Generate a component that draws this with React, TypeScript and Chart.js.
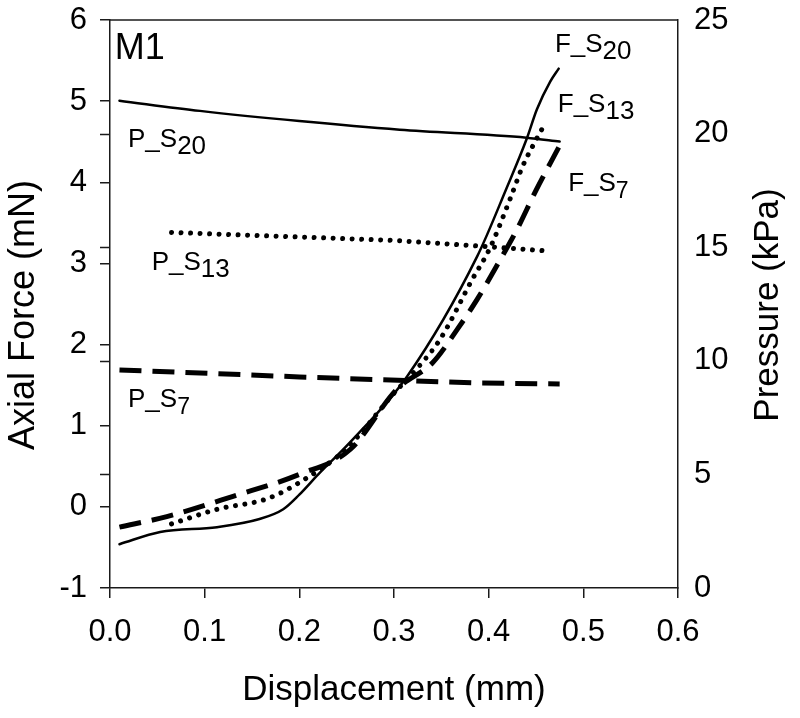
import React, { useEffect, useRef } from 'react';
import { Chart, registerables } from 'chart.js';

Chart.register(...registerables);

const FONT = '"Liberation Sans", Arial, Helvetica, sans-serif';
const AXIS = '#1a1a1a';

// Axial force curves (left axis, mN) vs displacement (mm)
const FS20_X = [0.01, 0.053, 0.113, 0.158, 0.183, 0.2, 0.22, 0.254, 0.314, 0.388, 0.419, 0.44, 0.451, 0.465, 0.474];
const FS20_Y = [-0.46, -0.31, -0.25, -0.15, -0.03, 0.15, 0.4, 0.8, 1.61, 3.09, 3.93, 4.53, 4.9, 5.24, 5.4];

const FS13_X = [0.065, 0.113, 0.166, 0.2, 0.25, 0.3, 0.324, 0.349, 0.383, 0.401, 0.4225, 0.436, 0.449, 0.458];
const FS13_Y = [-0.21, -0.03, 0.1, 0.3, 0.72, 1.4, 1.7, 2.07, 2.81, 3.18, 3.79, 4.2, 4.5, 4.69];

const FS7_X = [0.01, 0.06, 0.13, 0.2, 0.254, 0.303, 0.341, 0.367, 0.388, 0.41, 0.43, 0.45, 0.474];
const FS7_Y = [-0.25, -0.12, 0.13, 0.4, 0.71, 1.45, 1.78, 2.19, 2.56, 3.0, 3.42, 3.9, 4.43];

// Pressure curves (right axis, kPa)
const PS20_X = [0.01, 0.095, 0.2, 0.306, 0.44, 0.475];
const PS20_Y = [21.45, 21.0, 20.55, 20.17, 19.82, 19.65];

const PS13_X = [0.065, 0.3, 0.39, 0.457];
const PS13_Y = [15.65, 15.3, 15.05, 14.85];

const PS7_X = [0.01, 0.2, 0.39, 0.475];
const PS7_Y = [9.6, 9.29, 9.02, 8.98];

// Right-axis tick values that are also marked on the left axis line
const PRESSURE_MARKS = [5, 10, 15, 20];

// Text annotations (positions in x / left-axis units)
const LABEL_MAIN = ['M1', 'P_S', 'P_S', 'P_S', 'F_S', 'F_S', 'F_S'];
const LABEL_SUB = ['', '20', '13', '7', '20', '13', '7'];
const LABEL_X = [0.005, 0.019, 0.044, 0.019, 0.47, 0.473, 0.484];
const LABEL_Y = [5.52, 4.43, 2.92, 1.23, 5.61, 4.87, 3.89];

const toPts = (xs: number[], ys: number[]) => xs.map((x, i) => ({ x, y: ys[i] }));

const solid = { borderWidth: 2.5, borderDash: [] as number[], borderCapStyle: 'round' };
const dotted = { borderWidth: 5, borderDash: [0.01, 9.5], borderCapStyle: 'round' };
const dashed = { borderWidth: 5, borderDash: [22, 11], borderCapStyle: 'butt' };

const mk = (label: string, xs: number[], ys: number[], axis: string, style: any) => ({
  label,
  data: toPts(xs, ys),
  yAxisID: axis,
  showLine: true,
  pointRadius: 0,
  pointHoverRadius: 0,
  borderColor: '#000',
  backgroundColor: '#000',
  fill: false,
  cubicInterpolationMode: 'monotone',
  ...style,
});

const noPad = (s: any) => {
  s.paddingTop = 0;
  s.paddingBottom = 0;
  s.paddingLeft = 0;
  s.paddingRight = 0;
};

const overlay = {
  id: 'overlay',
  afterDraw(chart: any) {
    const ctx = chart.ctx as CanvasRenderingContext2D;
    const { left, right, top } = chart.chartArea;
    const xs = chart.scales.x;
    const ys = chart.scales.y;
    const y1 = chart.scales.y1;
    ctx.save();
    // top frame line
    ctx.strokeStyle = AXIS;
    ctx.lineWidth = 1.5;
    ctx.beginPath();
    ctx.moveTo(left, top);
    ctx.lineTo(right, top);
    ctx.stroke();
    // pressure tick marks on the left axis line
    ctx.beginPath();
    PRESSURE_MARKS.forEach((v) => {
      const py = Math.round(y1.getPixelForValue(v)) + 0.5;
      ctx.moveTo(left - 10, py);
      ctx.lineTo(left, py);
    });
    ctx.stroke();

    // axis titles (vertical)
    ctx.fillStyle = '#000';
    ctx.textAlign = 'center';
    ctx.textBaseline = 'middle';
    ctx.save();
    ctx.translate(24, 315);
    ctx.rotate(-Math.PI / 2);
    ctx.font = `36px ${FONT}`;
    ctx.fillText('Axial Force (mN)', 0, 0);
    ctx.restore();
    ctx.save();
    ctx.translate(768, 305);
    ctx.rotate(-Math.PI / 2);
    ctx.font = `35px ${FONT}`;
    ctx.fillText('Pressure (kPa)', 0, 0);
    ctx.restore();

    // annotations
    ctx.textAlign = 'left';
    ctx.textBaseline = 'alphabetic';
    LABEL_MAIN.forEach((t, i) => {
      const px = xs.getPixelForValue(LABEL_X[i]);
      const py = ys.getPixelForValue(LABEL_Y[i]);
      const size = i === 0 ? 36 : 26;
      ctx.font = `${size}px ${FONT}`;
      ctx.fillText(t, px, py);
      const w = ctx.measureText(t).width;
      if (LABEL_SUB[i]) {
        ctx.font = `${LABEL_SUB[i].length === 1 ? 23 : 26}px ${FONT}`;
        ctx.fillText(LABEL_SUB[i], px + w, py + 7);
      }
    });
    ctx.restore();
  },
};

export default function App() {
  const ref = useRef<HTMLCanvasElement>(null);
  useEffect(() => {
    const tickFont = { family: FONT, size: 31 };
    const grid = { drawOnChartArea: false, tickLength: 10, color: AXIS, tickColor: AXIS, lineWidth: 1.5 };
    const border = { color: AXIS, width: 1.5 };
    const chart = new Chart(ref.current as HTMLCanvasElement, {
      type: 'scatter',
      data: {
        datasets: [
          mk('P_S20', PS20_X, PS20_Y, 'y1', solid),
          mk('P_S13', PS13_X, PS13_Y, 'y1', { ...dotted, cubicInterpolationMode: 'default', tension: 0 }),
          mk('P_S7', PS7_X, PS7_Y, 'y1', { ...dashed, cubicInterpolationMode: 'default', tension: 0 }),
          mk('F_S20', FS20_X, FS20_Y, 'y', solid),
          mk('F_S13', FS13_X, FS13_Y, 'y', dotted),
          mk('F_S7', FS7_X, FS7_Y, 'y', dashed),
        ] as any,
      },
      options: {
        animation: false,
        responsive: false,
        devicePixelRatio: 1,
        layout: { padding: { top: 20, left: 0, right: 0, bottom: 0 } },
        plugins: { legend: { display: false }, tooltip: { enabled: false }, title: { display: false } },
        events: [],
        scales: {
          x: {
            type: 'linear',
            min: 0,
            max: 0.6,
            afterFit: (s: any) => { s.height = 130; noPad(s); },
            ticks: { stepSize: 0.1, font: tickFont, color: '#000', padding: 16, maxRotation: 0, callback: (v: any) => Number(v).toFixed(1) },
            grid,
            border,
            title: { display: true, text: 'Displacement (mm)', font: { family: FONT, size: 35 }, color: '#000', padding: { top: 0, bottom: 7 } },
          },
          y: {
            type: 'linear',
            position: 'left',
            min: -1,
            max: 6,
            afterFit: (s: any) => { s.width = 110; noPad(s); },
            ticks: { stepSize: 1, font: tickFont, color: '#000', padding: 13, callback: (v: any) => String(v) },
            grid,
            border,
          },
          y1: {
            type: 'linear',
            position: 'right',
            min: 0,
            max: 25,
            afterFit: (s: any) => { s.width = 122; noPad(s); },
            ticks: { stepSize: 5, font: tickFont, color: '#000', padding: 16, callback: (v: any) => String(v) },
            grid: { display: false, drawTicks: false, drawOnChartArea: false },
            border,
          },
        },
      } as any,
      plugins: [overlay],
    });
    return () => chart.destroy();
  }, []);
  return (
    <div style={{ position: 'fixed', left: 0, top: 0, width: 800, height: 718, background: '#fff' }}>
      <canvas ref={ref} width={800} height={718} style={{ display: 'block' }} />
    </div>
  );
}
